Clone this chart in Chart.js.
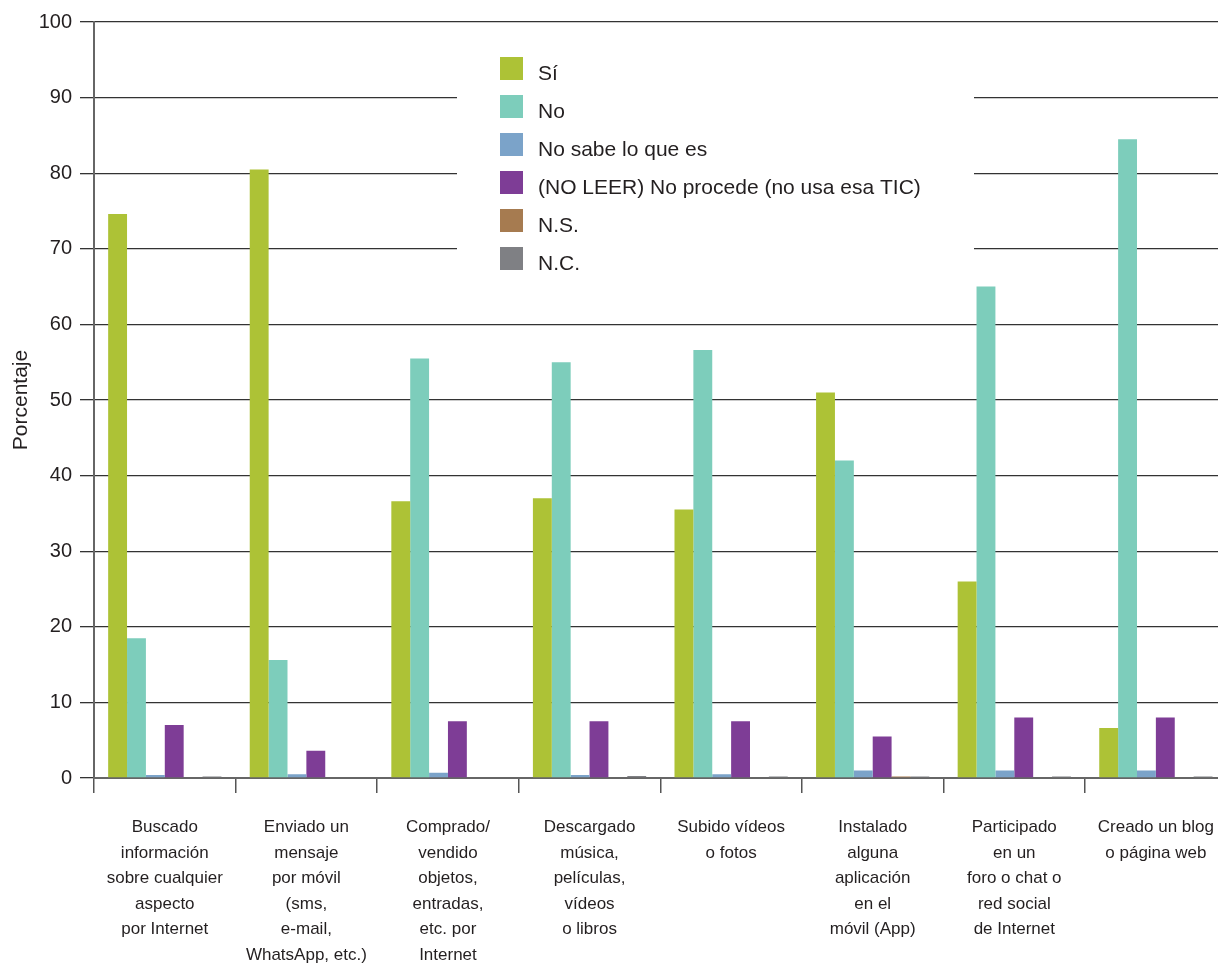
<!DOCTYPE html>
<html>
<head>
<meta charset="utf-8">
<script src="https://cdn.jsdelivr.net/npm/chart.js@4.4.1/dist/chart.umd.min.js"></script>
<style>
  html, body { margin: 0; padding: 0; background: #fff; overflow: hidden; }
  #wrap { width: 1218px; height: 965px; overflow: hidden; position: relative; }
  #myChart { position: absolute; left: 0; top: 0; }
</style>
</head>
<body>
<div id="wrap"><canvas id="myChart" width="1236" height="965"></canvas></div>
<script>
// categorias (eje X, en varias lineas)
const categories = [
  ['Buscado', 'información', 'sobre cualquier', 'aspecto', 'por Internet'],
  ['Enviado un', 'mensaje', 'por móvil', '(sms,', 'e-mail,', 'WhatsApp, etc.)'],
  ['Comprado/', 'vendido', 'objetos,', 'entradas,', 'etc. por', 'Internet'],
  ['Descargado', 'música,', 'películas,', 'vídeos', 'o libros'],
  ['Subido vídeos', 'o fotos'],
  ['Instalado', 'alguna', 'aplicación', 'en el', 'móvil (App)'],
  ['Participado', 'en un', 'foro o chat o', 'red social', 'de Internet'],
  ['Creado un blog', 'o página web']
]

const seriesNames = ['Sí', 'No', 'No sabe lo que es', '(NO LEER) No procede (no usa esa TIC)', 'N.S.', 'N.C.']

const si = [74.6, 80.5, 36.6, 37.0, 35.5, 51.0, 26.0, 6.6]
const no = [18.5, 15.6, 55.5, 55.0, 56.6, 42.0, 65.0, 84.5]
const noSabe = [0.4, 0.5, 0.7, 0.4, 0.5, 1.0, 1.0, 1.0]
const noProcede = [7.0, 3.6, 7.5, 7.5, 7.5, 5.5, 8.0, 8.0]
const ns = [0, 0, 0, 0, 0, 0.2, 0, 0]
const nc = [0.2, 0, 0, 0.25, 0.2, 0.2, 0.2, 0.2]

const yTicks = [0, 10, 20, 30, 40, 50, 60, 70, 80, 90, 100]

const colors = ['#adc236', '#7dcdbb', '#7ba3c9', '#7e3d96', '#a67b50', '#7f8084']

const font = 'Liberation Sans, Arial, sans-serif'

// leyenda dentro del area del grafico, con fondo blanco sobre la rejilla
const boxLegend = {
  id: 'boxLegend',
  beforeDatasetsDraw(chart) {
    const ctx = chart.ctx
    ctx.save()
    ctx.fillStyle = '#fff'
    ctx.fillRect(457, 30, 517, 258)
    ctx.font = '21px ' + font
    ctx.textBaseline = 'alphabetic'
    chart.data.datasets.forEach((ds, i) => {
      const top = 57 + 38 * i
      ctx.fillStyle = ds.backgroundColor
      ctx.fillRect(500, top, 23, 23)
      ctx.fillStyle = '#231f20'
      ctx.fillText(ds.label, 538, top + 23)
    })
    ctx.restore()
  }
}

const allData = [si, no, noSabe, noProcede, ns, nc]

let myChart = document.getElementById('myChart').getContext('2d')
let chart = new Chart(myChart, {
  type: 'bar',
  data: {
    labels: categories,
    datasets: allData.map((d, i) => ({
      label: seriesNames[i],
      data: d,
      backgroundColor: colors[i],
      borderWidth: 0,
      categoryPercentage: 0.8,
      barPercentage: 1.0
    }))
  },
  options: {
    responsive: false,
    animation: false,
    devicePixelRatio: 1,
    layout: { padding: { top: 22, right: 0, left: 0, bottom: 0 } },
    plugins: {
      legend: { display: false },
      tooltip: { enabled: false }
    },
    scales: {
      x: {
        offset: true,
        grid: {
          offset: true,
          drawOnChartArea: false,
          drawTicks: true,
          tickLength: 15,
          color: '#555',
          lineWidth: 1.5
        },
        border: { color: '#666', width: 2 },
        ticks: {
          color: '#231f20',
          font: { family: font, size: 17, lineHeight: 1.5 },
          padding: 22,
          maxRotation: 0,
          autoSkip: false
        },
        afterFit: (scale) => { scale.height = 187 }
      },
      y: {
        min: 0,
        max: 100,
        afterBuildTicks: (scale) => { scale.ticks = yTicks.map(v => ({ value: v })) },
        grid: {
          color: '#333',
          lineWidth: 1.3,
          tickLength: 14,
          drawTicks: true
        },
        border: { color: '#666', width: 2 },
        ticks: {
          color: '#231f20',
          font: { family: font, size: 20 },
          padding: 8
        },
        title: {
          display: true,
          text: 'Porcentaje',
          color: '#231f20',
          font: { family: font, size: 21 },
          padding: { top: 9, bottom: 0 }
        },
        afterFit: (scale) => { scale.width = 94 }
      }
    }
  },
  plugins: [boxLegend]
})
</script>
</body>
</html>
